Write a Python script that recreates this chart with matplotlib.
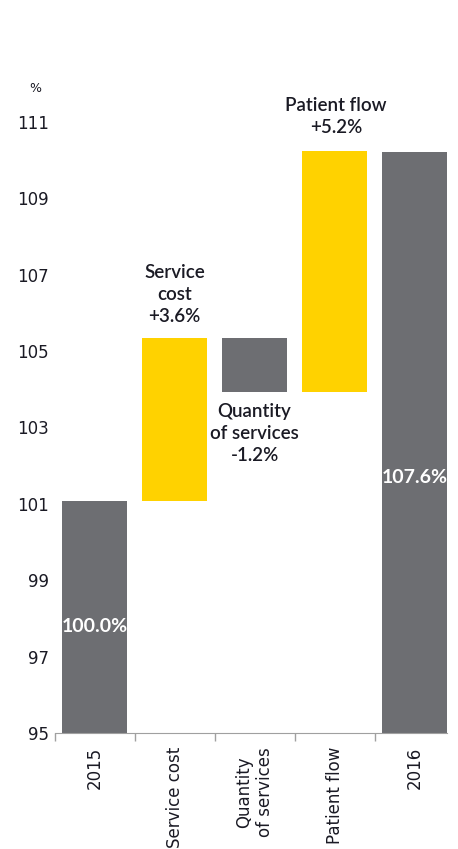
"""
Waterfall: change in healthcare cost index, 2015 -> 2016.
Saves out.png.
"""
import matplotlib.pyplot as plt

# ── Data ──────────────────────────────────────────────────────────────────────
categories = ["2015", "Service cost", "Quantity\nof services", "Patient flow", "2016"]
bar_bottom = [95.0, 101.07, 103.93, 103.93, 95.0]
bar_top = [101.07, 105.34, 105.34, 110.24, 110.22]
bar_kind = ["total", "step", "neg", "step", "total"]
step_labels = ["Service\ncost\n+3.6%", "Quantity\nof services\n-1.2%", "Patient flow\n+5.2%"]
total_labels = ["100.0%", "107.6%"]
y_ticks = [95, 97, 99, 101, 103, 105, 107, 109, 111]

GRAY = "#6d6e72"
YELLOW = "#ffd200"
TEXT = "#1a1a24"
colors = {"total": GRAY, "step": YELLOW, "neg": GRAY}

# ── Plot ──────────────────────────────────────────────────────────────────────
fig = plt.figure(figsize=(4.58, 8.49), dpi=100)
ax = fig.add_axes([0.119, 0.1367, 0.856, 0.7197])

x = list(range(len(categories)))
heights = [t - b for t, b in zip(bar_top, bar_bottom)]
ax.bar(x, heights, bottom=bar_bottom, width=0.81,
       color=[colors[k] for k in bar_kind], linewidth=0)

ax.set_xlim(-0.5, 4.4)
ax.set_ylim(95, 111)
ax.set_yticks(y_ticks)
ax.tick_params(axis="y", length=0, pad=4, labelsize=12, labelcolor=TEXT)

ax.set_xticks(x)
ax.set_xticklabels(categories, rotation=90, ha="center", va="top",
                   fontsize=12, color=TEXT, linespacing=1.25)
ax.tick_params(axis="x", which="major", length=0, pad=10)
ax.set_xticks([-0.5, 0.5, 1.5, 2.5, 3.5], minor=True)
ax.tick_params(axis="x", which="minor", length=6, color="#a0a0a0", width=1)

for side in ["left", "right", "top"]:
    ax.spines[side].set_visible(False)
ax.spines["bottom"].set_color("#a0a0a0")

# step annotations
ann_font = dict(fontsize=13.5, color=TEXT, ha="center", family="Lato",
                fontweight="semibold", linespacing=1.35)
ax.text(1, bar_top[1] + 0.35, step_labels[0], va="bottom", **ann_font)
ax.text(2, bar_bottom[2] - 0.3, step_labels[1], va="top", **ann_font)
ax.text(3.02, bar_top[3] + 0.4, step_labels[2], va="bottom", **ann_font)

# totals inside bars
lab_font = dict(fontsize=14, color="white", ha="center", va="center",
                fontweight="bold", family="Lato")
ax.text(0, 97.8, total_labels[0], **lab_font)
ax.text(4, 101.7, total_labels[1], **lab_font)

fig.text(35 / 458, 1 - 88 / 849, "%", fontsize=9, color=TEXT,
         ha="center", va="center")

fig.savefig("out.png", dpi=100)
